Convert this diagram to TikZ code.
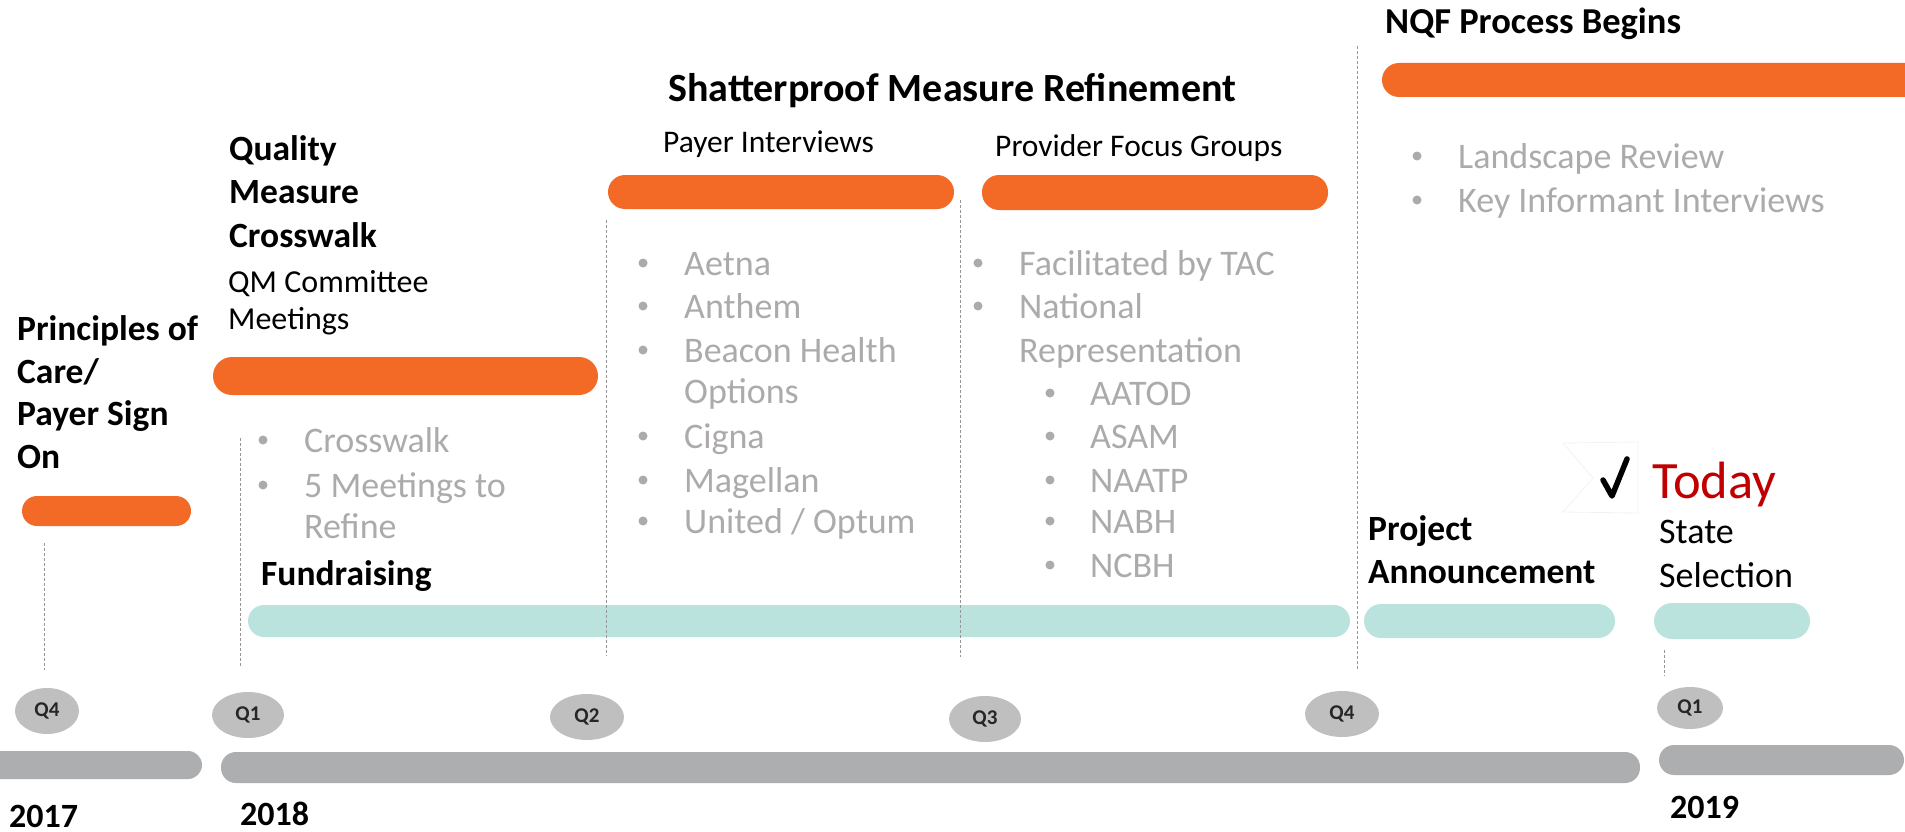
\documentclass[tikz,border=0pt]{standalone}
\usepackage{fontspec}
\setmainfont{Carlito}
\usetikzlibrary{shapes.geometric}
\definecolor{orng}{RGB}{242,106,37}
\definecolor{tealbar}{RGB}{187,227,222}
\definecolor{barg}{RGB}{173,174,176}
\definecolor{bubg}{RGB}{191,191,191}
\definecolor{txtg}{RGB}{173,170,170}
\definecolor{todayred}{RGB}{192,0,0}
\definecolor{dashg}{RGB}{150,150,150}
\newcommand\mybul[5]{%
  \node[bdot] (#1b) at (#2,#4-12) {};
  \node[gtxt] (#1) at (#3,#4) {#5};}
\begin{document}
\begin{tikzpicture}[x=1pt,y=-1pt,
  hd/.style={anchor=base west, inner sep=0, font=\bfseries\fontsize{35.5}{42}\selectfont},
  rg/.style={anchor=base west, inner sep=0, font=\fontsize{32}{38}\selectfont},
  gtxt/.style={anchor=base west, inner sep=0, text=txtg, font=\fontsize{36}{42}\selectfont},
  bdot/.style={circle, fill=txtg, inner sep=0, minimum size=9},
  qbub/.style={ellipse, fill=bubg, inner sep=0, text=black!85, font=\bfseries\fontsize{21}{24}\selectfont},
  yr/.style={anchor=base west, inner sep=0, font=\bfseries\fontsize{34}{40}\selectfont},
  vdash/.style={draw=dashg, line width=0.9, dash pattern=on 3 off 2},
]
\useasboundingbox (0,0) rectangle (1905,832);
\begin{scope}
\clip (0,0) rectangle (1905,832);
% orange bars
\fill[orng, rounded corners=15] (22,496) rectangle (191,526);
\fill[orng, rounded corners=19] (213,357) rectangle (598,395);
\fill[orng, rounded corners=17] (608,175) rectangle (954,209);
\fill[orng, rounded corners=17] (982,175) rectangle (1328,210);
\fill[orng, rounded corners=17] (1382,63) rectangle (1960,97);
% teal bars
\fill[tealbar, rounded corners=16] (248,605) rectangle (1350,637);
\fill[tealbar, rounded corners=17] (1364,604) rectangle (1615,638);
\fill[tealbar, rounded corners=18] (1654,603) rectangle (1810,639);
% grey year bars
\fill[barg, rounded corners=14] (-40,751) rectangle (202,779);
\fill[barg, rounded corners=15] (221,752) rectangle (1640,783);
\fill[barg, rounded corners=15] (1659,745) rectangle (1904,775);
\end{scope}
% dashed guides
\coordinate (d1a) at (44,543);   \coordinate (d1b) at (44,670);
\coordinate (d2a) at (240,438);  \coordinate (d2b) at (240,667);
\coordinate (d3a) at (606,220);  \coordinate (d3b) at (606,656);
\coordinate (d4a) at (960,200);  \coordinate (d4b) at (960,657);
\coordinate (d5a) at (1357,46);  \coordinate (d5b) at (1357,669);
\coordinate (d6a) at (1664,650); \coordinate (d6b) at (1664,676);
\draw[vdash] (d1a) -- (d1b);
\draw[vdash] (d2a) -- (d2b);
\draw[vdash] (d3a) -- (d3b);
\draw[vdash] (d4a) -- (d4b);
\draw[vdash] (d5a) -- (d5b);
\draw[vdash] (d6a) -- (d6b);
% quarter bubbles
\node[qbub, minimum width=64, minimum height=46] (q4a) at (47,711) {Q4};
\node[qbub, minimum width=72, minimum height=46] (q1a) at (248,715) {Q1};
\node[qbub, minimum width=74, minimum height=46] (q2a) at (587,717) {Q2};
\node[qbub, minimum width=72, minimum height=46] (q3a) at (985,719) {Q3};
\node[qbub, minimum width=74, minimum height=46] (q4b) at (1342,714) {Q4};
\node[qbub, minimum width=66, minimum height=42] (q1b) at (1690,708) {Q1};
% years
\node[yr] (y17) at (9,827) {2017};
\node[yr] (y18) at (240,825) {2018};
\node[yr] (y19) at (1670,818) {2019};
% headings
\node[hd] (pc1) at (17,340) {Principles of};
\node[hd] (pc2) at (17,383) {Care/};
\node[hd] (pc3) at (17,425) {Payer Sign};
\node[hd] (pc4) at (17,468) {On};
\node[hd] (qm1) at (229,160) {Quality};
\node[hd] (qm2) at (229,203) {Measure};
\node[hd] (qm3) at (229,247) {Crosswalk};
\node[rg] (qc1) at (228,292) {QM Committee};
\node[rg] (qc2) at (228,329) {Meetings};
\node[hd] (fund) at (261,585) {Fundraising};
\node[hd, font=\bfseries\fontsize{40}{46}\selectfont] (spr) at (668,102) {Shatterproof Measure Refinement};
\node[rg, font=\fontsize{31.5}{37}\selectfont] (payi) at (663,152) {Payer Interviews};
\node[rg, font=\fontsize{31.5}{37}\selectfont] (provf) at (995,156) {Provider Focus Groups};
\node[hd, font=\bfseries\fontsize{36.5}{42}\selectfont] (nqf) at (1385,34) {NQF Process Begins};
\node[hd] (pa1) at (1368,540) {Project};
\node[hd] (pa2) at (1368,583) {Announcement};
\node[rg, font=\fontsize{36}{42}\selectfont] (ss1) at (1659,543) {State};
\node[rg, font=\fontsize{36}{42}\selectfont] (ss2) at (1659,587) {Selection};
\node[anchor=base west, inner sep=0, text=todayred, font=\fontsize{52.5}{60}\selectfont] (today) at (1652,498) {Today};
% faint chevron and check mark
\coordinate (ch1) at (1563,443); \coordinate (ch2) at (1638,442);
\coordinate (ch3) at (1638,513); \coordinate (ch4) at (1563,512);
\coordinate (ch5) at (1593,478);
\draw[black!5, line width=0.8] (ch1) -- (ch2) -- (ch3) -- (ch4) -- (ch5) -- cycle;
\coordinate (ck1) at (1603,480); \coordinate (ck2) at (1612,496); \coordinate (ck3) at (1627,459);
\draw[black, line width=5.5, line cap=round, line join=round] (ck1) -- (ck2) -- (ck3);
% grey bullet lists
\mybul{cw1}{263}{304}{452}{Crosswalk}
\mybul{cw2}{263}{304}{497}{5 Meetings to}
\node[gtxt] (cw3) at (304,538) {Refine};
\mybul{pl1}{643}{684}{275}{Aetna}
\mybul{pl2}{643}{684}{318}{Anthem}
\mybul{pl3}{643}{684}{362}{Beacon Health}
\node[gtxt] (pl4) at (684,403) {Options};
\mybul{pl5}{643}{684}{448}{Cigna}
\mybul{pl6}{643}{684}{492}{Magellan}
\mybul{pl7}{643}{684}{533}{United / Optum}
\mybul{pv1}{978}{1019}{275}{Facilitated by TAC}
\mybul{pv2}{978}{1019}{318}{National}
\node[gtxt] (pv3) at (1019,362) {Representation};
\mybul{pv4}{1050}{1090}{405}{AATOD}
\mybul{pv5}{1050}{1090}{448}{ASAM}
\mybul{pv6}{1050}{1090}{492}{NAATP}
\mybul{pv7}{1050}{1090}{533}{NABH}
\mybul{pv8}{1050}{1090}{577}{NCBH}
\mybul{nq1}{1417}{1458}{168}{Landscape Review}
\mybul{nq2}{1417}{1458}{212}{Key Informant Interviews}
\end{tikzpicture}
\end{document}
